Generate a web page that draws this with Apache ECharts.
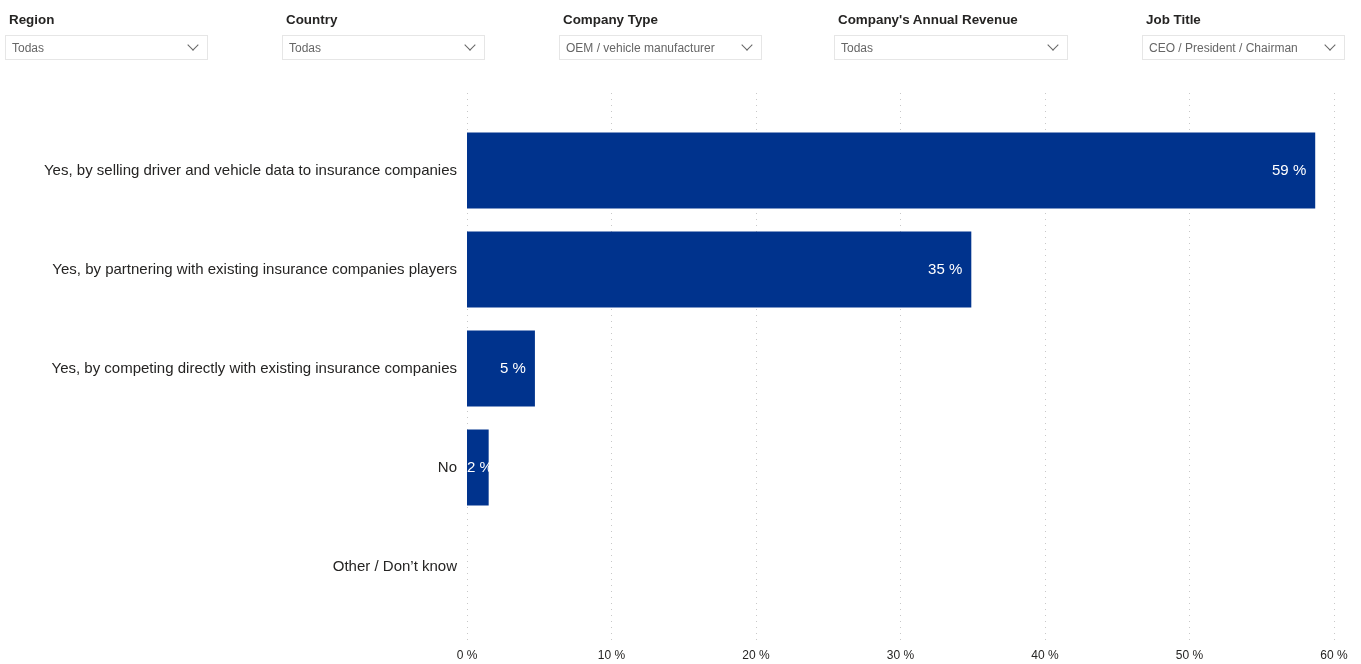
<!DOCTYPE html>
<html>
<head>
<meta charset="utf-8">
<script src="https://cdn.jsdelivr.net/npm/echarts@6/dist/echarts.min.js"></script>
<style>
  html, body { margin: 0; padding: 0; background: #fff; }
  #wrap { position: relative; width: 1361px; height: 664px; overflow: hidden; }
  #main { position: absolute; left: 0; top: 0; width: 1361px; height: 664px; }
  .slicer { position: absolute; top: 0; font-family: "Liberation Sans", Arial, sans-serif; }
  .slicer .ttl { position: absolute; top: 12px; left: 4px; font-size: 13.4px; font-weight: bold; color: #252423; white-space: nowrap; }
  .slicer .box { position: absolute; top: 35px; left: 0; height: 23px; border: 1px solid #e6e6e6; box-sizing: content-box; background: #fff; }
  .slicer .val { position: absolute; left: 6px; top: 5px; font-size: 12px; color: #666666; white-space: nowrap; }
  .slicer .chev { position: absolute; right: 10px; top: 5px; width: 7px; height: 7px; border-right: 1px solid #666666; border-bottom: 1px solid #666666; transform: rotate(45deg); }
</style>
</head>
<body>
<div id="wrap">
  <div id="main"></div>
</div>
<script>
// slicers on top of the report
var slicerTitles = ['Region', 'Country', 'Company Type', "Company's Annual Revenue", 'Job Title'];
var slicerValues = ['Todas', 'Todas', 'OEM / vehicle manufacturer', 'Todas', 'CEO / President / Chairman'];
var slicerLeft = [5, 282, 559, 834, 1142];
var slicerWidth = [201, 201, 201, 232, 201];

// bar chart data
var categories = [
  'Yes, by selling driver and vehicle data to insurance companies',
  'Yes, by partnering with existing insurance companies players',
  'Yes, by competing directly with existing insurance companies',
  'No',
  'Other / Don\u2019t know'
];
var values = [58.7, 34.9, 4.7, 1.5, 0];
var xTicks = [0, 10, 20, 30, 40, 50, 60];

var wrap = document.getElementById('wrap');
slicerTitles.forEach(function (t, i) {
  var s = document.createElement('div');
  s.className = 'slicer';
  s.style.left = slicerLeft[i] + 'px';
  s.innerHTML = '<div class="ttl"></div><div class="box" style="width:' + slicerWidth[i] + 'px">' +
    '<div class="val"></div><div class="chev"></div></div>';
  s.querySelector('.ttl').textContent = t;
  s.querySelector('.val').textContent = slicerValues[i];
  wrap.appendChild(s);
});

var dom = document.getElementById('main');
var myChart = echarts.init(dom);
var font = '"Liberation Sans", Arial, sans-serif';

var barData = values.map(function (v) {
  var d = { value: v };
  if (v > 0 && v < 3) {
    // tiny bar: label starts at the bar origin like the report does
    d.label = { position: 'insideLeft', distance: 0 };
  }
  return d;
});

var option = {
  animation: false,
  grid: [
    { left: 467, right: 27, top: 121, bottom: 48, containLabel: false },
    { left: 467, right: 27, top: 93, bottom: 19, containLabel: false }
  ],
  xAxis: [
    {
      gridIndex: 0, type: 'value', min: xTicks[0], max: xTicks[xTicks.length - 1], interval: 10,
      axisLine: { show: false }, axisTick: { show: false }, axisLabel: { show: false }, splitLine: { show: false }
    },
    {
      gridIndex: 1, type: 'value', min: xTicks[0], max: xTicks[xTicks.length - 1], interval: 10,
      axisLine: { show: false }, axisTick: { show: false },
      axisLabel: {
        margin: 5, color: '#252423', fontSize: 12, fontFamily: font,
        formatter: function (v) { return v + ' %'; }
      },
      splitLine: { show: true, lineStyle: { type: [1, 5], color: '#c8c8c8', width: 1 } }
    }
  ],
  yAxis: [
    {
      gridIndex: 0, type: 'category', data: categories, inverse: true,
      axisLine: { show: false }, axisTick: { show: false },
      axisLabel: { margin: 10, color: '#252423', fontSize: 15, fontFamily: font }
    },
    {
      gridIndex: 1, type: 'value', show: false, min: 0, max: 1
    }
  ],
  series: [
    {
      type: 'bar',
      xAxisIndex: 0, yAxisIndex: 0,
      data: barData,
      barCategoryGap: '23%',
      itemStyle: { color: '#00338d' },
      label: {
        show: true, position: 'insideRight', distance: 9,
        color: '#ffffff', fontSize: 15, fontFamily: font,
        formatter: function (p) { return p.value > 0 ? Math.round(p.value) + ' %' : ''; }
      }
    }
  ]
};

if (option && typeof option === 'object') {
  myChart.setOption(option, true);
}
</script>
</body>
</html>
